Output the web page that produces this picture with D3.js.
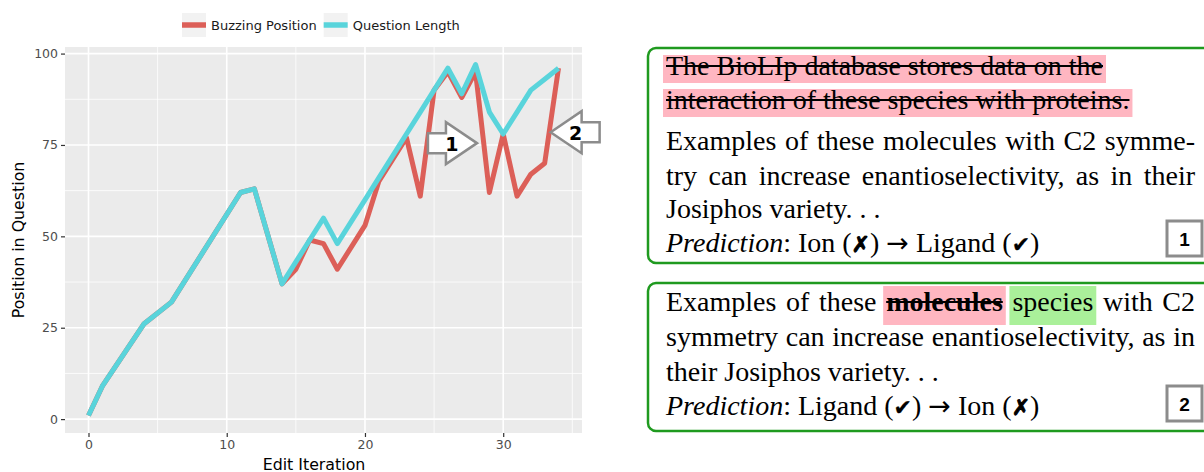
<!DOCTYPE html>
<html>
<head>
<meta charset="utf-8">
<script src="https://cdn.jsdelivr.net/npm/d3@7"></script>
<style>
  body { margin: 0; background: #fff; }
  svg { display: block; }
</style>
</head>
<body>
<div id="chart"></div>
<script>
// values (only the visible vertices)
var iterations     = [0, 1, 4, 6, 11, 12, 14, 15, 16, 17, 18, 20, 21, 23, 24, 25, 26, 27, 28, 29, 30, 31, 32, 33, 34];
var buzzing        = [1, 9, 26, 32, 62, 63, 37, 41, 49, 48, 41, 53, 65, 77, 61, 90, 95, 88, 95, 62, 78, 61, 67, 70, 96];
var questionLength = [1, 9, 26, 32, 62, 63, 37, 43, 49, 55, 48, 60, 66, 78, 84, 90, 96, 89, 97, 84, 78, 84, 90, 93, 96];
var seriesNames  = ["Buzzing Position", "Question Length"];
var seriesColors = ["#dc5f58", "#59d4db"];
var xTicks = [0, 10, 20, 30], xMinor = [5, 15, 25, 35];
var yTicks = [0, 25, 50, 75, 100], yMinor = [12.5, 37.5, 62.5, 87.5];
// callout arrows, tip in data units
var callouts = [
  {label: "1", x: 28.1, y: 75.5, dir: 1},
  {label: "2", x: 33.43, y: 78.5, dir: -1}
];

var svg = d3.select("#chart").append("svg")
  .attr("width", 1204).attr("height", 472)
  .style("font-family", "'DejaVu Sans', sans-serif");

var plot = {left: 65, right: 582, top: 47, bottom: 433};

var xe = d3.extent(iterations), xp = (xe[1] - xe[0]) * 0.05;
var x = d3.scaleLinear().domain([xe[0] - xp, xe[1] + xp]).range([plot.left, plot.right]);
var ye = d3.extent(buzzing.concat(questionLength)), yp = (ye[1] - ye[0]) * 0.05;
var y = d3.scaleLinear().domain([ye[0] - yp, ye[1] + yp]).range([plot.bottom, plot.top]);

svg.append("rect")
  .attr("x", plot.left).attr("y", plot.top)
  .attr("width", plot.right - plot.left).attr("height", plot.bottom - plot.top)
  .attr("fill", "#ebebeb");

var grid = svg.append("g").attr("stroke", "#fff");
grid.selectAll(".vmin").data(xMinor).enter().append("line")
  .attr("x1", x).attr("x2", x).attr("y1", plot.top).attr("y2", plot.bottom).attr("stroke-width", 0.8);
grid.selectAll(".hmin").data(yMinor).enter().append("line")
  .attr("y1", y).attr("y2", y).attr("x1", plot.left).attr("x2", plot.right).attr("stroke-width", 0.8);
grid.selectAll(".vmaj").data(xTicks).enter().append("line")
  .attr("x1", x).attr("x2", x).attr("y1", plot.top).attr("y2", plot.bottom).attr("stroke-width", 1.6);
grid.selectAll(".hmaj").data(yTicks).enter().append("line")
  .attr("y1", y).attr("y2", y).attr("x1", plot.left).attr("x2", plot.right).attr("stroke-width", 1.6);

var line = d3.line()
  .x(function (d, i) { return x(iterations[i]); })
  .y(function (d) { return y(d); });

[buzzing, questionLength].forEach(function (s, k) {
  svg.append("path").datum(s)
    .attr("d", line)
    .attr("fill", "none")
    .attr("stroke", seriesColors[k])
    .attr("stroke-width", 5)
    .attr("stroke-linejoin", "round");
});

// axes
var xAxis = svg.append("g").attr("transform", "translate(0," + plot.bottom + ")")
  .call(d3.axisBottom(x).tickValues(xTicks).tickSize(4).tickPadding(3.5));
var yAxis = svg.append("g").attr("transform", "translate(" + plot.left + ",0)")
  .call(d3.axisLeft(y).tickValues(yTicks).tickSize(4).tickPadding(3));
[xAxis, yAxis].forEach(function (a) {
  a.select(".domain").remove();
  a.selectAll(".tick line").attr("stroke", "#333").attr("stroke-width", 1.2);
  a.selectAll(".tick text").attr("fill", "#4d4d4d")
    .style("font-family", "'DejaVu Sans', sans-serif").style("font-size", "12.5px");
});

svg.append("text")
  .attr("x", 314).attr("y", 469.5)
  .attr("text-anchor", "middle")
  .style("font-size", "15.8px").attr("fill", "#000")
  .text("Edit Iteration");

svg.append("text")
  .attr("transform", "translate(24," + ((plot.top + plot.bottom) / 2) + ") rotate(-90)")
  .attr("text-anchor", "middle")
  .style("font-size", "15.8px").attr("fill", "#000")
  .text("Position in Question");

// legend
var lx = 182;
seriesNames.forEach(function (name, k) {
  var g = svg.append("g").attr("transform", "translate(" + lx + ",0)");
  g.append("rect").attr("x", 0).attr("y", 13).attr("width", 24).attr("height", 24).attr("fill", "#f2f2f2");
  g.append("line").attr("x1", 0).attr("x2", 24).attr("y1", 25).attr("y2", 25)
    .attr("stroke", seriesColors[k]).attr("stroke-width", 5.5);
  var t = g.append("text").attr("x", 29).attr("y", 29.6)
    .style("font-size", "13px").attr("fill", "#1a1a1a").text(name);
  lx += 29 + t.node().getComputedTextLength() + 7;
});

// callout arrows
callouts.forEach(function (c) {
  var tx = x(c.x), ty = y(c.y), d = c.dir;
  var pts = [[0, 0], [-31, -21], [-31, -10], [-49, -10], [-49, 10], [-31, 10], [-31, 21]]
    .map(function (p) { return [tx + d * p[0], ty + p[1]]; });
  svg.append("path")
    .attr("d", "M" + pts.join("L") + "Z")
    .attr("fill", "#fff").attr("stroke", "#8c8c8c").attr("stroke-width", 2.5)
    .attr("stroke-linejoin", "miter");
  svg.append("text")
    .attr("x", tx - d * 25).attr("y", ty + 8)
    .attr("text-anchor", "middle")
    .style("font-size", "19px").style("font-weight", "bold").attr("fill", "#000")
    .text(c.label);
});

// ---- text examples on the right ----
var serif = "'Liberation Serif', 'Times New Roman', serif";
var fs = 28;
var PINK = "#ffb6c1", GREEN = "#aaf09a";

function words(str, opt) {
  return str.split(" ").map(function (w) { return Object.assign({t: w}, opt || {}); });
}

var box1 = {
  top: 48, bottom: 263, tag: "1", tagTop: 221, hlTop: 20, hlH: 28,
  lines: [
    {y: 75, tokens: words("The BioLIp database stores data on the", {hl: PINK, s: 1})},
    {y: 109, tokens: words("interaction of these species with proteins.", {hl: PINK, s: 1})},
    {y: 150, justify: true, tokens: words("Examples of these molecules with C2 symme-")},
    {y: 185, justify: true, tokens: words("try can increase enantioselectivity, as in their")},
    {y: 218, tokens: words("Josiphos variety. . .")},
    {y: 252, tokens: [{t: [{t: "Prediction", i: 1}, {t: ":"}]}].concat(words("Ion (✗) → Ligand (✔)"))}
  ]
};
var box2 = {
  top: 283, bottom: 431, tag: "2", tagTop: 386, hlTop: 25, hlH: 39,
  lines: [
    {y: 311, justify: true, tokens: words("Examples of these")
        .concat([{t: "molecules", b: 1, s: 1, hl: PINK}, {t: "species", hl: GREEN}])
        .concat(words("with C2"))},
    {y: 346, justify: true, tokens: words("symmetry can increase enantioselectivity, as in")},
    {y: 381, tokens: words("their Josiphos variety. . .")},
    {y: 415, tokens: [{t: [{t: "Prediction", i: 1}, {t: ":"}]}].concat(words("Ligand (✔) → Ion (✗)"))}
  ]
};

var textLeft = 666, textRight = 1195;

function addRuns(textSel, tok) {
  var runs = typeof tok.t === "string" ? [{t: tok.t}] : tok.t;
  runs.forEach(function (r) {
    // split out check / cross marks and the arrow into a sans font
    r.t.split(/([✔✗→])/).forEach(function (piece) {
      if (!piece) return;
      var ts = textSel.append("tspan").text(piece);
      if (r.i) ts.style("font-style", "italic");
      if (tok.b) ts.style("font-weight", "bold");
      if (piece === "✔" || piece === "✗") {
        ts.style("font-family", "'DejaVu Sans', sans-serif").style("font-size", "22px")
          .attr("stroke", "#000").attr("stroke-width", piece === "✗" ? 1 : 0.3);
      } else if (piece === "→") {
        ts.style("font-family", "'DejaVu Sans', sans-serif").style("font-size", "27px");
      }
    });
  });
}

[box1, box2].forEach(function (box) {
  svg.append("rect")
    .attr("x", 648).attr("y", box.top)
    .attr("width", 600).attr("height", box.bottom - box.top)
    .attr("rx", 8).attr("fill", "#fff")
    .attr("stroke", "#1f9a1f").attr("stroke-width", 2.5);

  box.lines.forEach(function (ln) {
    var bg = svg.append("g"), fg = svg.append("g");
    var items = ln.tokens.map(function (tok) {
      var t = fg.append("text").attr("y", ln.y)
        .style("font-family", serif).style("font-size", fs + "px").attr("fill", "#000");
      addRuns(t, tok);
      return {tok: tok, sel: t, w: t.node().getComputedTextLength()};
    });
    var total = d3.sum(items, function (d) { return d.w; });
    var gap = ln.justify ? (textRight - textLeft - total) / (items.length - 1) : fs * 0.25;
    var cx = textLeft;
    items.forEach(function (d) { d.x = cx; d.sel.attr("x", cx); cx += d.w + gap; });

    // group consecutive tokens sharing highlight / strike
    function spans(key) {
      var out = [], cur = null;
      items.forEach(function (d) {
        var v = d.tok[key];
        if (v && cur && cur.v === v) { cur.x1 = d.x + d.w; }
        else if (v) { cur = {v: v, x0: d.x, x1: d.x + d.w}; out.push(cur); }
        else cur = null;
      });
      return out;
    }
    spans("hl").forEach(function (s) {
      bg.append("rect")
        .attr("x", s.x0 - 3).attr("y", ln.y - box.hlTop)
        .attr("width", s.x1 - s.x0 + 6).attr("height", box.hlH)
        .attr("fill", s.v);
    });
    spans("s").forEach(function (s) {
      fg.append("line")
        .attr("x1", s.x0).attr("x2", s.x1)
        .attr("y1", ln.y - 9).attr("y2", ln.y - 9)
        .attr("stroke", "#000").attr("stroke-width", 2);
    });
  });

  svg.append("rect")
    .attr("x", 1167).attr("y", box.tagTop)
    .attr("width", 35).attr("height", 35)
    .attr("fill", "#fff").attr("stroke", "#8c8c8c").attr("stroke-width", 3);
  svg.append("text")
    .attr("x", 1184.5).attr("y", box.tagTop + 24.5)
    .attr("text-anchor", "middle")
    .style("font-family", "'Liberation Sans', Arial, sans-serif")
    .style("font-size", "19px").style("font-weight", "bold")
    .text(box.tag);
});
</script>
</body>
</html>
